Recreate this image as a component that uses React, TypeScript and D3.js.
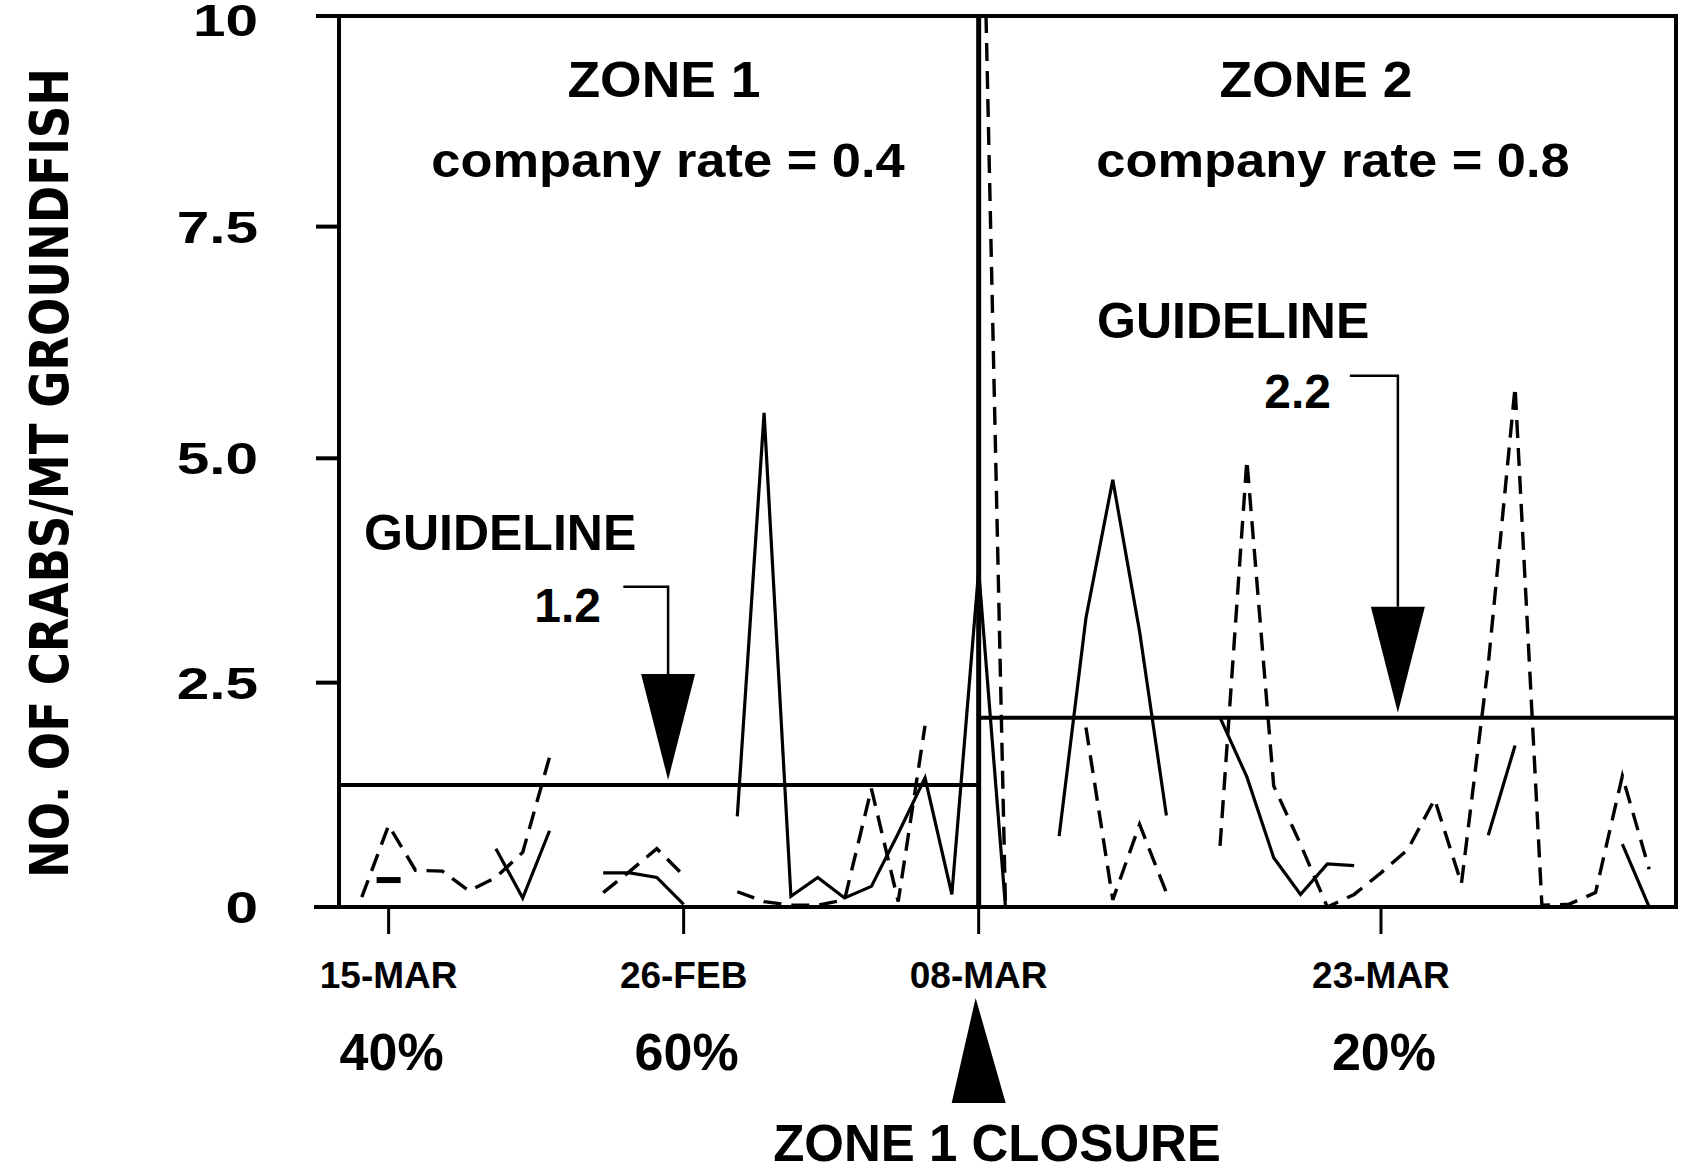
import * as d3 from 'd3'

const W = 1683
const H = 1172
const FRAME = { left: 339, right: 1676, top: 16, bottom: 907 }
const FONT = '"Liberation Sans", Arial, Helvetica, sans-serif'
const NARROW = '"Liberation Sans Narrow", "DejaVu Sans Condensed", "Liberation Sans", Arial, sans-serif'

// trip index runs along the x axis
const TRIP_MIN = -0.85
const TRIP_MAX = 49

// crabs per MT groundfish, one entry per trip (null = no observation)
const dashedRate: (number | null)[] = [
  0.11, 0.91, 0.41, 0.4, 0.18, 0.33, 0.61, 1.67, null, 0.16,
  0.4, 0.65, 0.35, null, 0.17, 0.06, 0.02, 0.02, 0.08, 1.32,
  0.06, 2.02, null, 14.0, 0, null, null, 2.0, 0.08, 0.92,
  0.16, null, 0.68, 4.98, 1.35, 0.7, 0, 0.14, 0.38, 0.64,
  1.2, 0.26, 2.7, 5.77, 0.02, 0.03, 0.16, 1.46, 0.42,
]
const solidRate: (number | null)[] = [
  null, 0.3, null, null, null, 0.65, 0.1, 0.85, null, 0.38,
  0.38, 0.33, 0.03, null, 1.01, 5.49, 0.12, 0.33, 0.1, 0.23,
  0.82, 1.44, 0.14, 3.75, 0, null, 0.79, 3.22, 4.76, 3.07,
  1.02, null, 2.11, 1.45, 0.55, 0.14, 0.48, 0.46, null, null,
  null, null, 0.8, 1.8, null, null, null, 0.7, 0,
]

const yTicks = [0, 2.5, 5, 7.5, 10]
const yTickLabels = ['0', '2.5', '5.0', '7.5', '10']
const xTickTrips = [1, 12, 23, 38]
const xTickLabels = ['15-MAR', '26-FEB', '08-MAR', '23-MAR']
const coverageTrips = [1, 12, 38]
const coverageLabels = ['40%', '60%', '20%']

const closureTrip = 23
const zoneNames = ['ZONE 1', 'ZONE 2']
const companyRates = ['company rate = 0.4', 'company rate = 0.8']
const guidelineValues = [1.36, 2.11]
const guidelineLabels = ['1.2', '2.2']
const zoneSpans: [number, number][] = [[TRIP_MIN, 23], [23, TRIP_MAX]]
// arrow apex trip, leader start trip, leader level
const arrowTrips = [11.42, 38.63]
const leaderStartTrips = [9.75, 36.84]
const leaderLevels = [3.57, 5.89]

export default function App() {
  const x = d3.scaleLinear().domain([TRIP_MIN, TRIP_MAX]).range([FRAME.left, FRAME.right])
  // the printed axis is not quite evenly spaced above 5
  const y = d3.scaleLinear().domain([0, 5, 7.5, 10]).range([FRAME.bottom, 458.3, 226.6, FRAME.top])

  const line = d3
    .line<number | null>()
    .defined((d) => d != null)
    .x((_, i) => x(i))
    .y((d) => y(d as number))

  const isolated = (arr: (number | null)[]) =>
    arr
      .map((v, i) => ({ v, i }))
      .filter(({ v, i }) => v != null && arr[i - 1] == null && arr[i + 1] == null)

  const zoneCenters = [664, 1316]
  const rateCenters = [668, 1333]

  return (
    <svg
      width={W}
      height={H}
      style={{ position: 'absolute', left: 0, top: 0, background: '#fff' }}
      fontFamily={FONT}
      fontWeight="bold"
    >
      <defs>
        <clipPath id="plot">
          <rect x={FRAME.left} y={FRAME.top} width={FRAME.right - FRAME.left} height={FRAME.bottom - FRAME.top} />
        </clipPath>
      </defs>
      <rect width={W} height={H} fill="#fff" />

      {/* y axis title */}
      <text
        transform="translate(68,473) rotate(-90)"
        textAnchor="middle"
        fontSize={54}
        fontFamily={NARROW}
        textLength={810}
        lengthAdjust="spacingAndGlyphs"
      >
        NO. OF CRABS/MT GROUNDFISH
      </text>

      {/* y ticks */}
      {yTicks.map((t, i) => (
        <g key={t}>
          <line x1={316} x2={FRAME.left} y1={y(t)} y2={y(t)} stroke="#000" strokeWidth={4} />
          <text
            transform={`translate(258,${Math.max(y(t) + 16, 36)}) scale(1.3,1)`}
            textAnchor="end"
            fontSize={45}
          >
            {yTickLabels[i]}
          </text>
        </g>
      ))}

      {/* x ticks */}
      {xTickTrips.map((t, i) => (
        <g key={t}>
          <line x1={x(t)} x2={x(t)} y1={FRAME.bottom} y2={FRAME.bottom + 27} stroke="#000" strokeWidth={3} />
          <text x={x(t)} y={988} textAnchor="middle" fontSize={37}>
            {xTickLabels[i]}
          </text>
        </g>
      ))}
      {coverageTrips.map((t, i) => (
        <text key={t} x={x(t) + 3} y={1070} textAnchor="middle" fontSize={52}>
          {coverageLabels[i]}
        </text>
      ))}

      {/* guidelines */}
      {guidelineValues.map((g, i) => (
        <line
          key={g}
          x1={x(zoneSpans[i][0])}
          x2={x(zoneSpans[i][1])}
          y1={y(g)}
          y2={y(g)}
          stroke="#000"
          strokeWidth={4}
        />
      ))}

      {/* data */}
      <g clipPath="url(#plot)" fill="none" stroke="#000" strokeLinejoin="miter">
        <path d={line(dashedRate) ?? ''} strokeWidth={3.4} strokeDasharray="18 10" />
        <path d={line(solidRate) ?? ''} strokeWidth={3.2} />
        {isolated(solidRate).map(({ v, i }) => (
          <line key={i} x1={x(i) - 12} x2={x(i) + 12} y1={y(v as number)} y2={y(v as number)} strokeWidth={6} />
        ))}
      </g>

      {/* frame and zone divider */}
      <rect
        x={FRAME.left}
        y={FRAME.top}
        width={FRAME.right - FRAME.left}
        height={FRAME.bottom - FRAME.top}
        fill="none"
        stroke="#000"
        strokeWidth={4}
      />
      <line x1={314} x2={FRAME.left} y1={FRAME.bottom} y2={FRAME.bottom} stroke="#000" strokeWidth={4} />
      <line x1={x(closureTrip)} x2={x(closureTrip)} y1={y(10)} y2={y(0)} stroke="#000" strokeWidth={5} />

      {/* zone titles */}
      {zoneNames.map((z, i) => (
        <g key={z}>
          <text transform={`translate(${zoneCenters[i]},97) scale(1.07,1)`} textAnchor="middle" fontSize={50}>
            {z}
          </text>
          <text transform={`translate(${rateCenters[i]},177) scale(1.07,1)`} textAnchor="middle" fontSize={49}>
            {companyRates[i]}
          </text>
        </g>
      ))}

      {/* guideline annotations */}
      <text x={364} y={550} fontSize={50}>GUIDELINE</text>
      <text x={1097} y={338} fontSize={50}>GUIDELINE</text>
      <text x={601} y={622} textAnchor="end" fontSize={48}>{guidelineLabels[0]}</text>
      <text x={1331} y={408} textAnchor="end" fontSize={48}>{guidelineLabels[1]}</text>
      {guidelineValues.map((g, i) => {
        const ax = x(arrowTrips[i])
        const ay = y(g) - 5
        const by = ay - 106
        return (
          <g key={`arrow${i}`}>
            <polyline
              points={`${x(leaderStartTrips[i])},${y(leaderLevels[i])} ${ax},${y(leaderLevels[i])} ${ax},${by}`}
              fill="none"
              stroke="#000"
              strokeWidth={2.5}
            />
            <polygon points={`${ax - 27},${by} ${ax + 27},${by} ${ax},${ay}`} fill="#000" />
          </g>
        )
      })}

      {/* closure marker */}
      <polygon
        points={`${x(closureTrip) - 27},1103 ${x(closureTrip) + 27},1103 ${x(closureTrip) - 3},998`}
        fill="#000"
      />
      <text x={997} y={1161} textAnchor="middle" fontSize={51}>
        ZONE 1 CLOSURE
      </text>
    </svg>
  )
}
